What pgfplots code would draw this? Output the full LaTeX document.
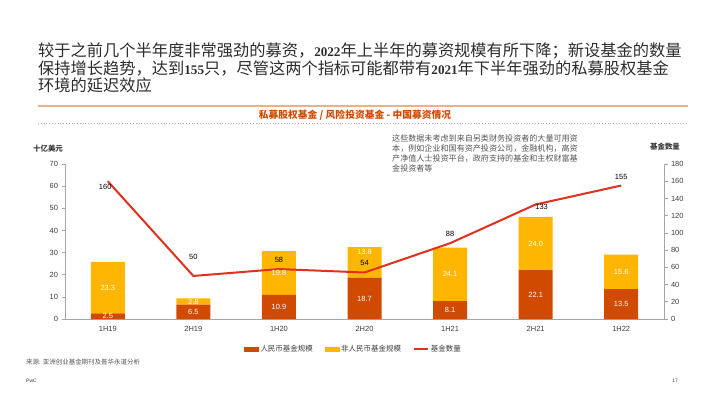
\documentclass[border=0pt]{standalone}
\usepackage{fontspec}
\setmainfont{Liberation Sans}
\newfontfamily\cjk{Noto Sans CJK SC}
\newfontfamily\numserif{Liberation Serif}
\usepackage{pgfplots}
\pgfplotsset{compat=1.18}
\definecolor{rmb}{HTML}{D04A02}
\definecolor{nonrmb}{HTML}{FFB600}
\definecolor{cnt}{HTML}{E0301E}
\definecolor{subt}{HTML}{D04A02}
\definecolor{titlec}{HTML}{2D2D2D}
\definecolor{txt}{HTML}{3C3C3C}
\definecolor{axisgray}{HTML}{A6A6A6}
\definecolor{notegray}{HTML}{555555}
\definecolor{ruleorange}{HTML}{E8B28C}
\newcommand{\tnum}[1]{{\numserif\bfseries\fontsize{13.2}{17}\selectfont #1}}
\tikzset{
  titleline/.style={anchor=west, inner sep=0, text=titlec, font=\cjk\fontsize{16.3}{17}\selectfont},
  barlab/.style={text=white, font=\fontsize{7.5}{9}\selectfont, inner sep=0},
  cntlab/.style={text=black, font=\fontsize{7.5}{9}\selectfont, inner sep=0},
}
\begin{document}
\begin{tikzpicture}[x=1bp,y=1bp]
\path (0,0) rectangle (710,399);
% title
\node[titleline] at (38,348) {较于之前几个半年度非常强劲的募资，\tnum{2022}年上半年的募资规模有所下降；新设基金的数量};
\node[titleline] at (38,331) {保持增长趋势，达到\tnum{155}只，尽管这两个指标可能都带有\tnum{2021}年下半年强劲的私募股权基金};
\node[titleline] at (38,314) {环境的延迟效应};
\draw[ruleorange, line width=1.3bp] (38,293) -- (688,293);
\node[inner sep=0, text=subt, font=\cjk\bfseries\fontsize{9.8}{11}\selectfont] at (355,284) {私募股权基金 / 风险投资基金 - 中国募资情况};
\draw[axisgray, line width=0.8bp, dotted] (38,276) -- (688,276);
% axis titles
\node[inner sep=0, text=txt, font=\cjk\bfseries\fontsize{7.5}{9}\selectfont] at (48,250) {十亿美元};
\node[inner sep=0, text=txt, font=\cjk\bfseries\fontsize{7.5}{9}\selectfont] at (665,252) {基金数量};
% note
\node[anchor=north west, inner sep=0, text=notegray, align=left, font=\cjk\fontsize{8.1}{10.3}\selectfont] at (392,265) {这些数据未考虑到来自另类财务投资者的大量可用资\\本，例如企业和国有资产投资公司，金融机构，高资\\产净值人士投资平台，政府支持的基金和主权财富基\\金投资者等};
% footer
\node[anchor=west, inner sep=0, text=notegray, font=\cjk\fontsize{6.5}{8}\selectfont] at (26,37) {来源: 亚洲创业基金期刊及普华永道分析};
\node[anchor=west, inner sep=0, text=txt, font=\fontsize{5}{6}\selectfont] at (26,18) {PwC};
\node[anchor=east, inner sep=0, text=txt, font=\fontsize{5}{6}\selectfont] at (678,18) {17};

\begin{axis}[
  at={(65bp,80bp)}, anchor=south west, scale only axis,
  width=599bp, height=155bp,
  xmin=-0.5, xmax=6.5, ymin=0, ymax=70,
  ybar stacked, bar width=34bp,
  axis y line*=left, axis x line*=bottom,
  axis line style={-, draw=axisgray, line width=0.8bp},
  xtick={0,...,6},
  xticklabels={1H19,2H19,1H20,2H20,1H21,2H21,1H22},
  x tick style={draw=none},
  ytick={0,10,...,70},
  y tick style={draw=axisgray, line width=0.6bp},
  tick align=outside, major tick length=3.5bp,
  tick label style={font=\fontsize{7.5}{9}\selectfont, text=txt},
  /pgf/number format/assume math mode=true,
  clip=false,
]
\addplot[fill=rmb, draw=none] coordinates {(0,2.5) (1,6.5) (2,10.9) (3,18.7) (4,8.1) (5,22.1) (6,13.5)};
\addplot[fill=nonrmb, draw=none] coordinates {(0,23.3) (1,2.8) (2,19.8) (3,13.8) (4,24.1) (5,24.0) (6,15.6)};
\end{axis}

\begin{axis}[
  at={(65bp,80bp)}, anchor=south west, scale only axis,
  width=599bp, height=155bp,
  xmin=-0.5, xmax=6.5, ymin=0, ymax=180,
  axis y line*=right, axis x line=none,
  axis line style={-, draw=axisgray, line width=0.8bp},
  ytick={0,20,...,180},
  y tick style={draw=axisgray, line width=0.6bp},
  tick align=outside, major tick length=3.5bp,
  tick label style={font=\fontsize{7.5}{9}\selectfont, text=txt},
  /pgf/number format/assume math mode=true,
  clip=false,
  legend columns=3,
  legend style={at={(0.4816,-0.194)}, anchor=center, draw=none, fill=none,
    font=\cjk\fontsize{7.5}{9}\selectfont, text=txt, inner sep=0,
    /tikz/every even column/.append style={column sep=10bp}},
  legend cell align=left,
]
\addlegendimage{legend image code/.code={\fill[rmb] (0bp,-2.2bp) rectangle (14bp,2.2bp);}}
\addlegendentry{人民币基金规模}
\addlegendimage{legend image code/.code={\fill[nonrmb] (0bp,-2.2bp) rectangle (14bp,2.2bp);}}
\addlegendentry{非人民币基金规模}
\addplot[cnt, line width=2bp, mark=none,
  legend image code/.code={\draw[cnt, line width=2bp] (0bp,0bp) -- (14bp,0bp);}]
  coordinates {(0,160) (1,50) (2,58) (3,54) (4,88) (5,133) (6,155)};
\addlegendentry{基金数量}
% bar value labels (bar values scaled to this axis: v*180/70)
\node[barlab] at (axis cs:0,3.86) {2.5};
\node[barlab] at (axis cs:1,8.36) {6.5};
\node[barlab] at (axis cs:2,14.01) {10.9};
\node[barlab] at (axis cs:3,23.14) {18.7};
\node[barlab] at (axis cs:4,10.41) {8.1};
\node[barlab] at (axis cs:5,28.41) {22.1};
\node[barlab] at (axis cs:6,17.36) {13.5};
\node[barlab] at (axis cs:0,36.39) {23.3};
\node[barlab] at (axis cs:1,20.31) {2.8};
\node[barlab] at (axis cs:2,53.49) {19.8};
\node[barlab] at (axis cs:3,77.8) {13.8};
\node[barlab] at (axis cs:4,51.81) {24.1};
\node[barlab] at (axis cs:5,87.69) {24.0};
\node[barlab] at (axis cs:6,54.77) {15.6};
% count labels
\node[cntlab] at (axis cs:-0.03,153) {160};
\node[cntlab] at (axis cs:1,72) {50};
\node[cntlab] at (axis cs:2,68.5) {58};
\node[cntlab] at (axis cs:3,64.7) {54};
\node[cntlab] at (axis cs:4,98.7) {88};
\node[cntlab] at (axis cs:5.07,130) {133};
\node[cntlab] at (axis cs:6,165) {155};
\end{axis}
\end{tikzpicture}
\end{document}
